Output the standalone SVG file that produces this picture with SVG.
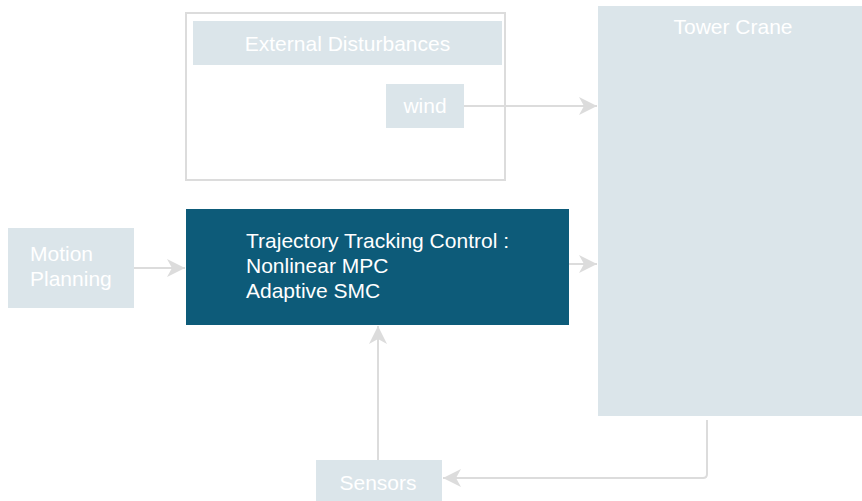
<svg xmlns="http://www.w3.org/2000/svg" width="862" height="501" viewBox="0 0 862 501">
  <style>
    .light { fill: #dbe5ea; }
    .dark { fill: #0d5b79; }
    .frame { fill: #ffffff; stroke: #dcdcdc; stroke-width: 2; }
    .lbl { font-family: "Liberation Sans", Arial, sans-serif; font-size: 21px; fill: #ffffff; }
    .mid { text-anchor: middle; }
    .wire { fill: none; stroke: #dcdcdc; stroke-width: 2; marker-end: url(#head); }
  </style>
  <defs>
    <marker id="head" markerUnits="userSpaceOnUse" markerWidth="20" markerHeight="20" refX="18" refY="9" orient="auto">
      <path d="M0,0 L18,9 L0,18 L5,9 Z" fill="#dcdcdc"/>
    </marker>
  </defs>
  <rect width="862" height="501" fill="#ffffff"/>

  <g id="external-disturbances">
    <rect class="frame" x="186" y="13" width="319" height="167"/>
    <rect class="light" x="193" y="21" width="309" height="44"/>
    <text class="lbl mid" x="347.5" y="51">External Disturbances</text>
  </g>

  <g id="wind">
    <rect class="light" x="386" y="84" width="78" height="44"/>
    <text class="lbl mid" x="425" y="113">wind</text>
  </g>

  <g id="tower-crane">
    <rect class="light" x="598" y="6" width="264" height="410"/>
    <text class="lbl mid" x="733" y="34">Tower Crane</text>
  </g>

  <g id="motion-planning">
    <rect class="light" x="8" y="228" width="126" height="80"/>
    <text class="lbl" x="30" y="261">Motion</text>
    <text class="lbl" x="30" y="286">Planning</text>
  </g>

  <g id="trajectory-control">
    <rect class="dark" x="186" y="209" width="383" height="116"/>
    <text class="lbl" x="246" y="248">Trajectory Tracking Control :</text>
    <text class="lbl" x="246" y="273">Nonlinear MPC</text>
    <text class="lbl" x="246" y="298">Adaptive SMC</text>
  </g>

  <g id="sensors">
    <rect class="light" x="316" y="460" width="126" height="41"/>
    <text class="lbl mid" x="378" y="490">Sensors</text>
  </g>

  <g id="connectors">
    <path class="wire" d="M134,268 L185,268"/>
    <path class="wire" d="M464,106 L597,106"/>
    <path class="wire" d="M569,264 L597,264"/>
    <path class="wire" d="M378,460 L378,326"/>
    <path class="wire" d="M707,420 L707,474 Q707,478 703,478 L443,478"/>
  </g>
</svg>
